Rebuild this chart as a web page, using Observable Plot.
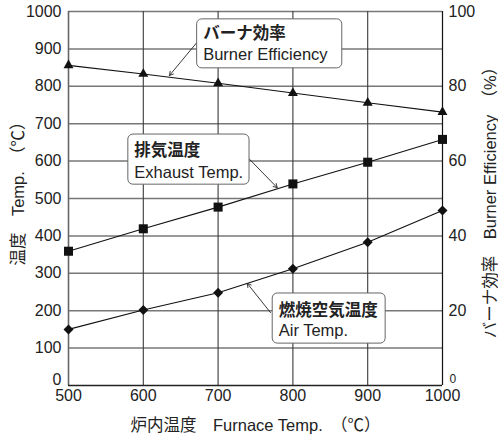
<!DOCTYPE html>
<html>
<head>
<meta charset="utf-8">
<script src="https://cdn.jsdelivr.net/npm/d3@7"></script>
<script src="https://cdn.jsdelivr.net/npm/@observablehq/plot@0.6"></script>
<style>
  html, body { margin: 0; padding: 0; background: #fff; }
  #chart svg { display: block; }
</style>
</head>
<body>
<div id="chart"></div>
<script>
// ---- data ----
const furnace = [500, 600, 700, 800, 900, 1000];
const burnerEff = [85.6, 83.3, 80.8, 78.2, 75.6, 73.1];   // % (right axis)
const exhaustTemp = [359, 419, 477, 539, 597, 658];       // ℃
const airTemp = [150, 202, 248, 312, 383, 468];           // ℃

const xTicks = [500, 600, 700, 800, 900, 1000];
const yTicks = [0, 100, 200, 300, 400, 500, 600, 700, 800, 900, 1000];
const y2Ticks = [0, 20, 40, 60, 80, 100];

// annotation boxes (data units)
const labelJa = ["バーナ効率", "排気温度", "燃焼空気温度"];
const labelEn = ["Burner Efficiency", "Exhaust Temp.", "Air Temp."];
const boxX1 = [672, 580, 773];
const boxX2 = [866, 742, 924];
const boxY1 = [848, 537, 112];
const boxY2 = [979, 671, 246];
const jaY = [940, 628, 200];
const enY = [884, 570, 146];
const leadX1 = [672, 741, 770];
const leadY1 = [918, 607, 195];
const leadX2 = [635, 779, 739];
const leadY2 = [829, 529, 273];

const rows = furnace.map((x, i) => ({x, eff: burnerEff[i], exh: exhaustTemp[i], air: airTemp[i]}));
const notes = labelJa.map((ja, i) => ({ja, en: labelEn[i], x1: boxX1[i], x2: boxX2[i], y1: boxY1[i], y2: boxY2[i],
  jy: jaY[i], ey: enY[i], lx1: leadX1[i], ly1: leadY1[i], lx2: leadX2[i], ly2: leadY2[i]}));

const font = '"Liberation Sans", Arial, "Noto Sans CJK JP", sans-serif';
const ink = "#222";

const chart = Plot.plot({
  width: 498,
  height: 441,
  marginLeft: 68,
  marginRight: 56,
  marginTop: 11,
  marginBottom: 56,
  style: {fontFamily: font, fontSize: "16px", color: ink, background: "#fff"},
  x: {domain: [500, 1000], axis: null},
  y: {domain: [0, 1000], axis: null},
  marks: [
    // grid
    Plot.ruleY(yTicks.filter(d => d > 0), {stroke: "#777", strokeWidth: 1.5}),
    Plot.ruleX(xTicks.filter(d => d > 500 && d < 1000), {stroke: "#3a3a3a", strokeWidth: 1.1}),
    // frame
    Plot.ruleX([500], {stroke: "#666", strokeWidth: 1.6}),
    Plot.ruleX([1000], {stroke: "#111", strokeWidth: 1.2}),
    Plot.ruleY([0], {stroke: "#222", strokeWidth: 1.3}),
    // series lines
    Plot.line(rows, {x: "x", y: d => d.eff * 10, stroke: "#111", strokeWidth: 1.1}),
    Plot.line(rows, {x: "x", y: "exh", stroke: "#111", strokeWidth: 1.1}),
    Plot.line(rows, {x: "x", y: "air", stroke: "#111", strokeWidth: 1.1}),
    // markers
    Plot.dot(rows, {x: "x", y: d => d.eff * 10, symbol: "triangle", r: 3.7, fill: "#111", stroke: "none"}),
    Plot.dot(rows, {x: "x", y: "exh", symbol: "square", r: 5.1, fill: "#111", stroke: "none"}),
    Plot.dot(rows, {x: "x", y: "air", symbol: "diamond2", r: 4.5, fill: "#111", stroke: "none"}),
    // leaders
    Plot.arrow(notes, {x1: "lx1", y1: "ly1", x2: "lx2", y2: "ly2", stroke: ink, strokeWidth: 0.9, headLength: 7, bend: false}),
    // boxes
    Plot.rect(notes, {x1: "x1", x2: "x2", y1: "y1", y2: "y2", fill: "#fff", stroke: "#666", strokeWidth: 1, rx: 5}),
    Plot.text(notes, {x: "x1", y: "jy", text: "ja", textAnchor: "start", dx: 6, fontSize: 16.5, fontWeight: "bold", fill: ink}),
    Plot.text(notes, {x: "x1", y: "ey", text: "en", textAnchor: "start", dx: 6, fontSize: 16.5, fill: ink}),
    // left tick labels
    Plot.text(yTicks.filter(d => d > 0), {frameAnchor: "left", y: d => d, text: d => String(d), textAnchor: "end", dx: -7, fill: ink}),
    Plot.text([0], {frameAnchor: "left", y: d => d, text: d => String(d), textAnchor: "end", dx: -7, dy: -6, fill: ink}),
    // right tick labels
    Plot.text(y2Ticks.filter(d => d > 0), {frameAnchor: "right", y: d => d * 10, text: d => String(d), textAnchor: "start", dx: 6, fill: ink}),
    Plot.text([0], {frameAnchor: "right", y: d => d * 10, text: d => String(d), textAnchor: "start", dx: 7, dy: -6, fontSize: 12, fill: ink}),
    // bottom tick labels
    Plot.text(xTicks, {frameAnchor: "bottom", x: d => d, text: d => String(d), lineAnchor: "top", dy: 4, fill: ink}),
    // axis titles
    Plot.text(["炉内温度　Furnace Temp.　（℃）"], {frameAnchor: "bottom", text: d => d, textAnchor: "middle", lineAnchor: "middle", dy: 40, fontSize: 16.5, fill: ink}),
    Plot.text(["温度　Temp.　（℃）"], {frameAnchor: "left", text: d => d, textAnchor: "middle", lineAnchor: "middle", rotate: -90, dx: -50, dy: -9, fontSize: 16.5, fill: ink}),
    Plot.text(["バーナ効率　Burner Efficiency　（%）"], {frameAnchor: "right", text: d => d, textAnchor: "middle", lineAnchor: "middle", rotate: -90, dx: 48, fontSize: 16.5, fill: ink})
  ]
});
document.getElementById("chart").appendChild(chart);
</script>
</body>
</html>
